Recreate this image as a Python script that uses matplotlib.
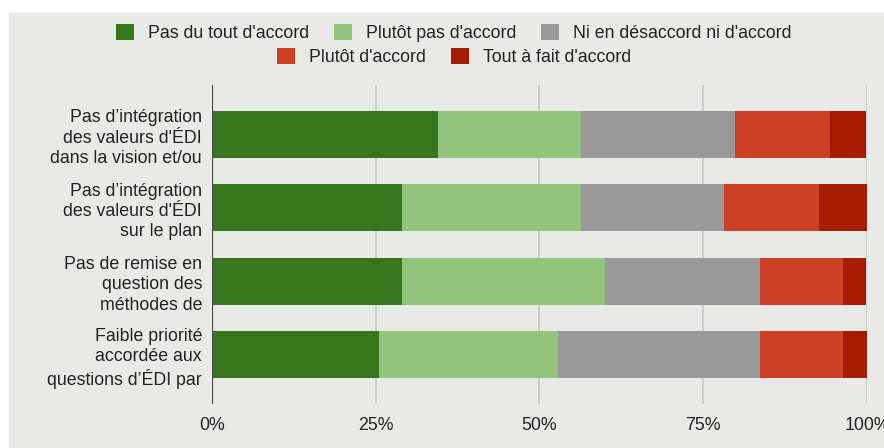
import matplotlib
matplotlib.use('Agg')
import matplotlib.pyplot as plt
from matplotlib.patches import Patch, Rectangle

plt.rcParams['font.family'] = ['Liberation Sans', 'DejaVu Sans']

# categories (top to bottom) and stacked shares in %
categories = [
    "Pas d\u2019intégration\ndes valeurs d'ÉDI\ndans la vision et/ou",
    "Pas d\u2019intégration\ndes valeurs d'ÉDI\nsur le plan",
    "Pas de remise en\nquestion des\nméthodes de",
    "Faible priorité\naccordée aux\nquestions d\u2019ÉDI par",
]
series_names = ["Pas du tout d'accord", "Plutôt pas d'accord",
                "Ni en désaccord ni d'accord", "Plutôt d'accord",
                "Tout à fait d'accord"]
pas_du_tout = [34.5, 29.1, 29.1, 25.5]
plutot_pas = [21.8, 27.3, 30.9, 27.3]
neutre = [23.6, 21.8, 23.6, 30.9]
plutot = [14.5, 14.5, 12.7, 12.7]
tout_a_fait = [5.5, 7.3, 3.6, 3.6]
xticks = [0, 25, 50, 75, 100]
xtick_labels = ['0%', '25%', '50%', '75%', '100%']

colors = ['#38761d', '#93c47d', '#999999', '#cc4125', '#a61c00']
bg = '#e9e9e7'
fs = 12.8

fig = plt.figure(figsize=(8.84, 4.48), dpi=100, facecolor='white')
fig.patches.append(Rectangle((9 / 884, 0), 1, (448 - 13) / 448,
                             transform=fig.transFigure, color=bg, zorder=-5))

ax = fig.add_axes([211.8 / 884, 44 / 448, 655.2 / 884, 319 / 448])
ax.set_facecolor('none')

y = list(range(len(categories)))
left = [0] * len(categories)
all_series = [pas_du_tout, plutot_pas, neutre, plutot, tout_a_fait]
for vals, color in zip(all_series, colors):
    ax.barh(y, vals, left=left, height=0.64, color=color, zorder=3)
    left = [l + v for l, v in zip(left, vals)]

ax.set_xlim(0, 100)
ax.set_ylim(3.675, -0.675)
ax.set_xticks(xticks)
ax.set_xticklabels(xtick_labels, fontsize=fs, color='#222222')
ax.set_yticks(y)
ax.set_yticklabels(categories, fontsize=fs, color='#222222', linespacing=1.25)
ax.tick_params(length=0)
ax.tick_params(axis='x', pad=9)
ax.tick_params(axis='y', pad=7)
ax.grid(axis='x', color='#c4c4c4', linewidth=1.1, zorder=0)
ax.axvline(0, color='#4a4a4a', linewidth=1.6, zorder=4)
for s in ax.spines.values():
    s.set_visible(False)

handles = [Patch(facecolor=c) for c in colors]
leg_kw = dict(loc='center', frameon=False, fontsize=fs, handlelength=1.0,
              handleheight=1.0, handletextpad=0.8, columnspacing=1.4,
              borderpad=0, labelcolor='#222222')
leg1 = fig.legend(handles[:3], series_names[:3], ncol=3,
                  bbox_to_anchor=(454 / 884, 1 - 33 / 448), **leg_kw)
leg2 = fig.legend(handles[3:], series_names[3:], ncol=2,
                  bbox_to_anchor=(454 / 884, 1 - 57 / 448), **leg_kw)

fig.savefig('out.png', dpi=100, facecolor=fig.get_facecolor())
